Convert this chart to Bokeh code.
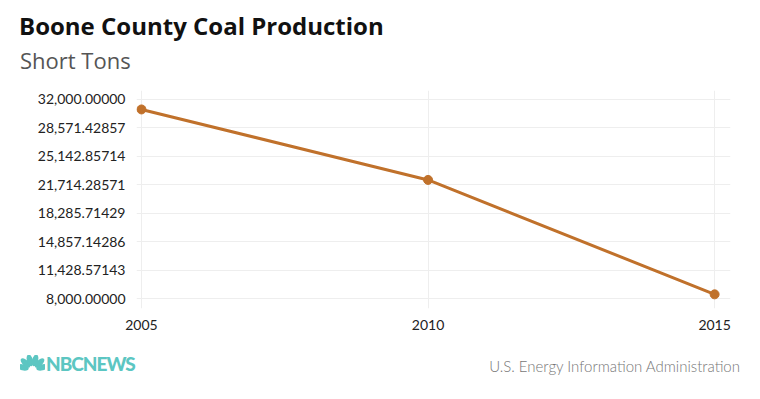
from bokeh.plotting import figure
from bokeh.models import ColumnDataSource, FixedTicker, Range1d, Div
from bokeh.layouts import column
from bokeh.embed import file_html
from bokeh.resources import INLINE

years = [2005, 2010, 2015]
production = [30800, 22300, 8500]
y_ticks = [8000.0, 11428.57143, 14857.14286, 18285.71429, 21714.28571, 25142.85714, 28571.42857, 32000.0]
y_tick_labels = ["8,000.00000", "11,428.57143", "14,857.14286", "18,285.71429",
                 "21,714.28571", "25,142.85714", "28,571.42857", "32,000.00000"]
x_ticks = [2005, 2010, 2015]
x_tick_labels = ["2005", "2010", "2015"]
title_text = "Boone County Coal Production"
subtitle_text = "Short Tons"
source_text = "U.S. Energy Information Administration"
logo_text = "NBCNEWS"

FONT = "Lato"
TEAL = "#5cc6c2"
src = ColumnDataSource(dict(x=years, y=production))

title_div = Div(width=760, height=80, margin=0, text=f"""
<div style="position:relative;width:760px;height:80px;">
  <div style="position:absolute;left:19px;top:11px;font-family:'Open Sans';font-size:24px;font-weight:bold;color:#111;line-height:30px;white-space:nowrap;">{title_text}</div>
  <div style="position:absolute;left:20px;top:47px;font-family:'Open Sans';font-size:22px;color:#555;line-height:26px;white-space:nowrap;">{subtitle_text}</div>
</div>""")

p = figure(width=760, height=270, output_backend="svg", toolbar_location=None,
           x_range=Range1d(2004.913, 2015.277), y_range=Range1d(6794, 33085),
           min_border_left=136, min_border_right=30, min_border_top=10, min_border_bottom=42,
           margin=0)
p.outline_line_color = None
p.background_fill_color = "white"
p.border_fill_color = "white"

p.xaxis.ticker = FixedTicker(ticks=x_ticks)
p.yaxis.ticker = FixedTicker(ticks=y_ticks)
p.xaxis.major_label_overrides = {t: l for t, l in zip(x_ticks, x_tick_labels)}
p.yaxis.major_label_overrides = {t: l for t, l in zip(y_ticks, y_tick_labels)}
for ax in (p.xaxis, p.yaxis):
    ax.axis_line_color = None
    ax.major_tick_line_color = None
    ax.minor_tick_line_color = None
    ax.major_tick_out = 0
    ax.major_tick_in = 0
    ax.major_label_text_font = FONT
    ax.major_label_text_font_size = "14px"
    ax.major_label_text_color = "#222222"
p.yaxis.major_label_standoff = 11
p.xaxis.major_label_standoff = 11

p.xgrid.grid_line_color = "#eeeeee"
p.ygrid.grid_line_color = "#eeeeee"

p.line("x", "y", source=src, line_color="#c0712b", line_width=3)
p.scatter("x", "y", source=src, size=9, fill_color="#c0712b", line_color="#c0712b")

feathers = "".join(
    f'<ellipse cx="12" cy="5" rx="3" ry="6" transform="rotate({a} 12 15)" fill="{TEAL}"/>'
    for a in (-75, -45, -15, 15, 45, 75)
)
footer_div = Div(width=760, height=49, margin=0, text=f"""
<div style="position:relative;width:760px;height:49px;font-family:Lato;">
  <svg style="position:absolute;left:20px;top:5px;" width="25" height="18" viewBox="0 0 24 18">{feathers}</svg>
  <div style="position:absolute;left:46px;top:3px;font-size:19px;font-weight:900;color:{TEAL};letter-spacing:-1px;line-height:22px;white-space:nowrap;">{logo_text}</div>
  <div style="position:absolute;right:20px;top:6px;font-size:15px;font-weight:300;color:#777;line-height:20px;white-space:nowrap;">{source_text}</div>
</div>""")

layout = column(title_div, p, footer_div, spacing=0, margin=0)
open("out.html", "w").write(file_html(layout, INLINE))
